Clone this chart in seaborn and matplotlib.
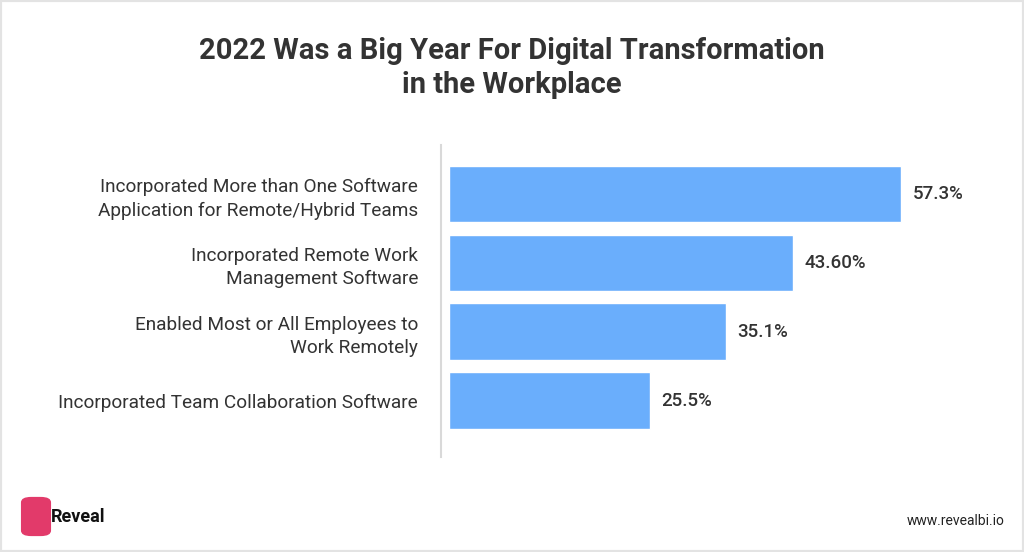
import numpy as np
import pandas as pd
import matplotlib.pyplot as plt
import matplotlib.patches as mpatches
import seaborn as sns

### Data
categories = [
    "Incorporated More than One Software\nApplication for Remote/Hybrid Teams",
    "Incorporated Remote Work\nManagement Software",
    "Enabled Most or All Employees to\nWork Remotely",
    "Incorporated Team Collaboration Software",
]
values = [57.3, 43.6, 35.1, 25.5]
value_labels = ["57.3%", "43.60%", "35.1%", "25.5%"]

title = "2022 Was a Big Year For Digital Transformation\nin the Workplace"

df = pd.DataFrame({"category": categories, "value": values})

sns.set_theme(style="white")
plt.rcParams['font.family'] = ['Roboto', 'DejaVu Sans']

fig = plt.figure(figsize=(10.24, 5.52), dpi=100)
ax = fig.add_axes([441 / 1024, 1 - 457 / 552, (1000 - 441) / 1024, 312 / 552])

sns.barplot(data=df, x="value", y="category", color="#6aaefc", saturation=1,
            width=0.82, ax=ax)

ax.set_xlim(-1.0, 69.8)
ax.set_ylim(3.82, -0.71)
ax.set_xlabel("")
ax.set_ylabel("")
ax.set_xticks([])
for s in ["top", "right", "bottom"]:
    ax.spines[s].set_visible(False)
ax.spines["left"].set_color("#d9d9d9")
ax.spines["left"].set_linewidth(1.5)
ax.tick_params(axis="y", length=0, pad=16.5, labelsize=13.7, labelcolor="#333333")
for lab in ax.get_yticklabels():
    lab.set_linespacing(1.4)

for i, (v, t) in enumerate(zip(values, value_labels)):
    ax.text(v + 1.4, i, t, va="center", ha="left", fontsize=13.5,
            fontweight="medium", color="#333333")

fig.text(0.5, 1 - 68 / 552, title, ha="center", va="center", fontsize=21,
         fontweight="bold", color="#333333", linespacing=1.3)

# logo
logo = mpatches.FancyBboxPatch((23 / 1024, 1 - 535 / 552), 26 / 1024, 37 / 552,
                               boxstyle="round,pad=0.002,rounding_size=0.01",
                               transform=fig.transFigure, facecolor="#e23a6a",
                               edgecolor="none")
fig.patches.append(logo)
fig.text(51 / 1024, 1 - 517 / 552, "Reveal", ha="left", va="center",
         fontsize=13, fontweight="bold", color="#111111")
fig.text(1005 / 1024, 1 - 521 / 552, "www.revealbi.io", ha="right", va="center",
         fontsize=10, color="#222222")

# light frame
frame = mpatches.Rectangle((0, 0), 1, 1, transform=fig.transFigure,
                           fill=False, edgecolor="#e3e3e3", linewidth=3)
fig.patches.append(frame)

fig.savefig("out.png", dpi=100)
